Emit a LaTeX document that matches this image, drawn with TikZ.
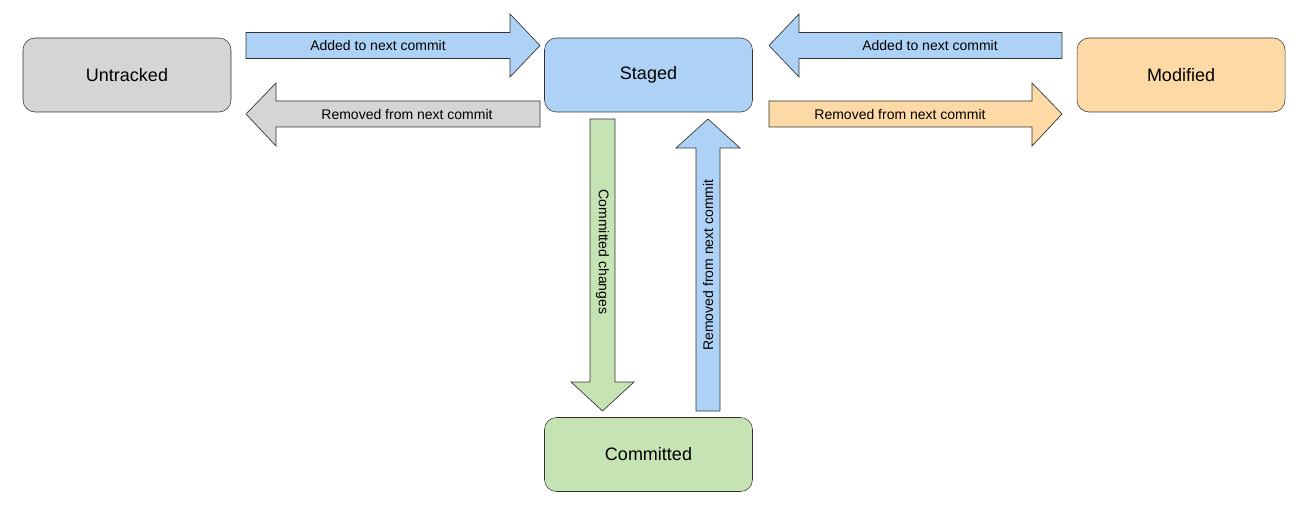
\documentclass[tikz,border=0pt]{standalone}
\usepackage{fontspec}
\setmainfont{Liberation Sans}
\definecolor{cgray}{HTML}{D5D5D5}
\definecolor{cblue}{HTML}{AED2F5}
\definecolor{corange}{HTML}{FDD9A6}
\definecolor{cgreen}{HTML}{C5E3B3}
\begin{document}
\begin{tikzpicture}[x=0.75pt,y=-0.75pt,
  box/.style={draw=black!80,rounded corners=9pt,minimum width=208*0.75pt,minimum height=74*0.75pt,font=\fontsize{13.5}{15}\selectfont,inner sep=0pt},
  blk/.style={draw=black!80,line width=0.5pt},
  lbl/.style={font=\fontsize{10.5}{12}\selectfont,inner sep=0pt}]
\useasboundingbox (0,0) rectangle (1312,513);
\node[box,fill=cgray] (u) at (127,75) {Untracked};
\node[box,fill=cblue] (s) at (648.5,75) {Staged};
\node[box,fill=corange] (m) at (1181,75) {Modified};
\node[box,fill=cgreen] (c) at (648.5,454.5) {Committed};
\draw[blk,fill=cblue] (246,32.5)--(510,32.5)--(510,14)--(540,45.5)--(510,77)--(510,58.5)--(246,58.5)--cycle;
\draw[blk,fill=cgray] (540,101)--(276,101)--(276,83)--(246,114)--(276,146)--(276,127)--(540,127)--cycle;
\draw[blk,fill=cblue] (1062,32.5)--(799,32.5)--(799,14)--(769,45.5)--(799,77)--(799,58.5)--(1062,58.5)--cycle;
\draw[blk,fill=corange] (769,101)--(1032,101)--(1032,83)--(1062,114)--(1032,146)--(1032,127)--(769,127)--cycle;
\draw[blk,fill=cgreen] (590,119)--(590,382)--(571,382)--(602.5,411)--(634,382)--(615,382)--(615,119)--cycle;
\draw[blk,fill=cblue] (696,411)--(696,148)--(676,148)--(708,119)--(740,148)--(720,148)--(720,411)--cycle;
\node[lbl] (l1) at (378,45.5) {Added to next commit};
\node[lbl] (l2) at (407,114) {Removed from next commit};
\node[lbl] (l3) at (930,45.5) {Added to next commit};
\node[lbl] (l4) at (900,114) {Removed from next commit};
\node[lbl,rotate=-90] (l5) at (602.5,252) {Committed changes};
\node[lbl,rotate=90] (l6) at (708,265) {Removed from next commit};
\end{tikzpicture}
\end{document}
